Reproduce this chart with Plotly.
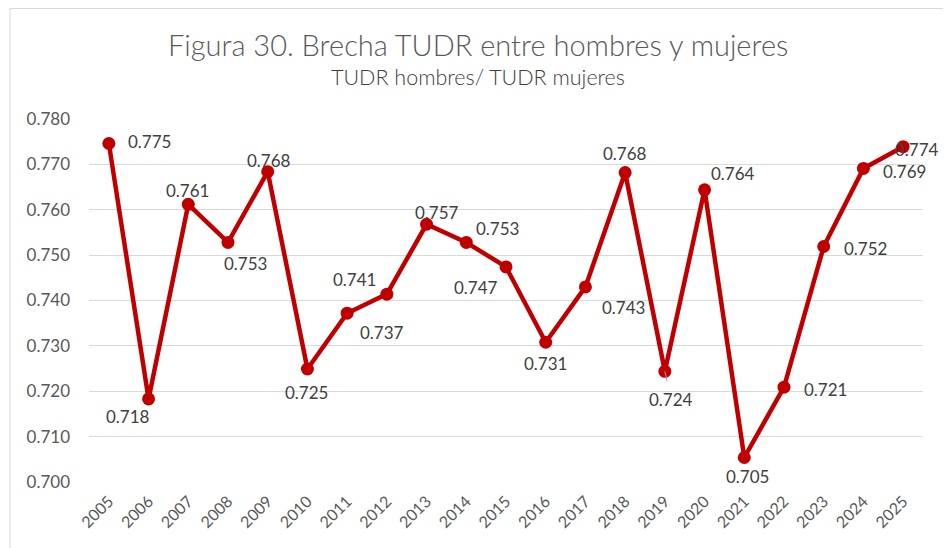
import plotly.graph_objects as go

years = [str(y) for y in range(2005, 2026)]
ratio = [0.7746, 0.7183, 0.7612, 0.7528, 0.7684, 0.7249, 0.7372, 0.7414, 0.7568,
         0.7528, 0.7474, 0.7308, 0.7430, 0.7682, 0.7244, 0.7644, 0.7054, 0.7209,
         0.7519, 0.7691, 0.7739]
y_ticks = [0.700, 0.710, 0.720, 0.730, 0.740, 0.750, 0.760, 0.770, 0.780]

title_text = "Figura 30. Brecha TUDR entre hombres y mujeres"
subtitle_text = "TUDR hombres/ TUDR mujeres"

# label offsets in pixels (dx, dy with dy positive = downward)
label_offsets = [(41, -2), (-21, 18), (-1, -14), (17, 21), (1, -11), (-1, 23),
                 (35, 19), (-32, -15), (10, -12), (31, -14), (-30, 21), (0, 21),
                 (38, 21), (0, -19), (6, 28), (28, -16), (3, 19), (41, 2),
                 (42, 2), (41, 3), (14, 3)]

RED = "#C00000"
GRAY = "#595959"
FONT = "Lato"
TITLE_FONT = "Lato Light, Lato"
SUB_FONT = "Lato Light, Lato"

idx = list(range(len(years)))

# page body adds an 8px offset; figure is sized so the plot area lands where the reference has it
W, H = 943, 540
L, R, T, B = 81, 28, 111, 66
PW, PH = W - L - R, H - T - B


def px_x(x):
    return (x - L) / PW


def px_y(y):
    return (H - B - y) / PH


fig = go.Figure()
fig.add_trace(go.Scatter(
    x=idx, y=ratio, mode="lines+markers",
    line=dict(color=RED, width=4.5),
    marker=dict(color=RED, size=13),
    hoverinfo="skip", showlegend=False,
))

annotations = []
for i, v in zip(idx, ratio):
    dx, dy = label_offsets[i]
    if years[i] == "2019":
        annotations.append(dict(
            x=i, y=v, xref="x", yref="y", text=f"{v:.3f}",
            showarrow=True, ax=dx, ay=dy, arrowhead=0, arrowwidth=1,
            arrowcolor="#A6A6A6", standoff=0, startstandoff=6,
            font=dict(family=FONT, size=17, color="#404040")))
    else:
        annotations.append(dict(
            x=i, y=v, xref="x", yref="y", text=f"{v:.3f}",
            showarrow=False, xshift=dx, yshift=-dy,
            font=dict(family=FONT, size=17, color="#404040")))

annotations.append(dict(
    x=px_x(470), y=px_y(37), xref="paper", yref="paper", text=title_text,
    showarrow=False, xanchor="center", yanchor="middle",
    font=dict(family=TITLE_FONT, size=29, color=GRAY)))
annotations.append(dict(
    x=px_x(470), y=px_y(69), xref="paper", yref="paper", text=subtitle_text,
    showarrow=False, xanchor="center", yanchor="middle",
    font=dict(family=SUB_FONT, size=21.5, color="#404040")))

fig.update_layout(
    width=W, height=H,
    margin=dict(l=L, r=R, t=T, b=B),
    paper_bgcolor="white", plot_bgcolor="white",
    annotations=annotations,
    shapes=[dict(type="rect", xref="paper", yref="paper",
                 x0=px_x(2), x1=px_x(939),
                 y0=px_y(600), y1=px_y(0.5),
                 line=dict(color="#D9D9D9", width=1), fillcolor="rgba(0,0,0,0)",
                 layer="below")],
)
fig.update_xaxes(
    range=[-0.5, len(years) - 0.5], tickmode="array", tickvals=idx, ticktext=years,
    tickangle=-45, showgrid=False, showline=False, zeroline=False,
    ticks="", ticklabelstandoff=6,
    tickfont=dict(family=FONT, size=16, color=GRAY),
)
fig.update_yaxes(
    range=[0.700, 0.780], tickvals=y_ticks, tickformat=".3f",
    showgrid=True, gridcolor="#D9D9D9", gridwidth=1, zeroline=False,
    showline=False, ticks="", ticklabelstandoff=18,
    tickfont=dict(family=FONT, size=17, color=GRAY),
)

fig.write_html("out.html")
